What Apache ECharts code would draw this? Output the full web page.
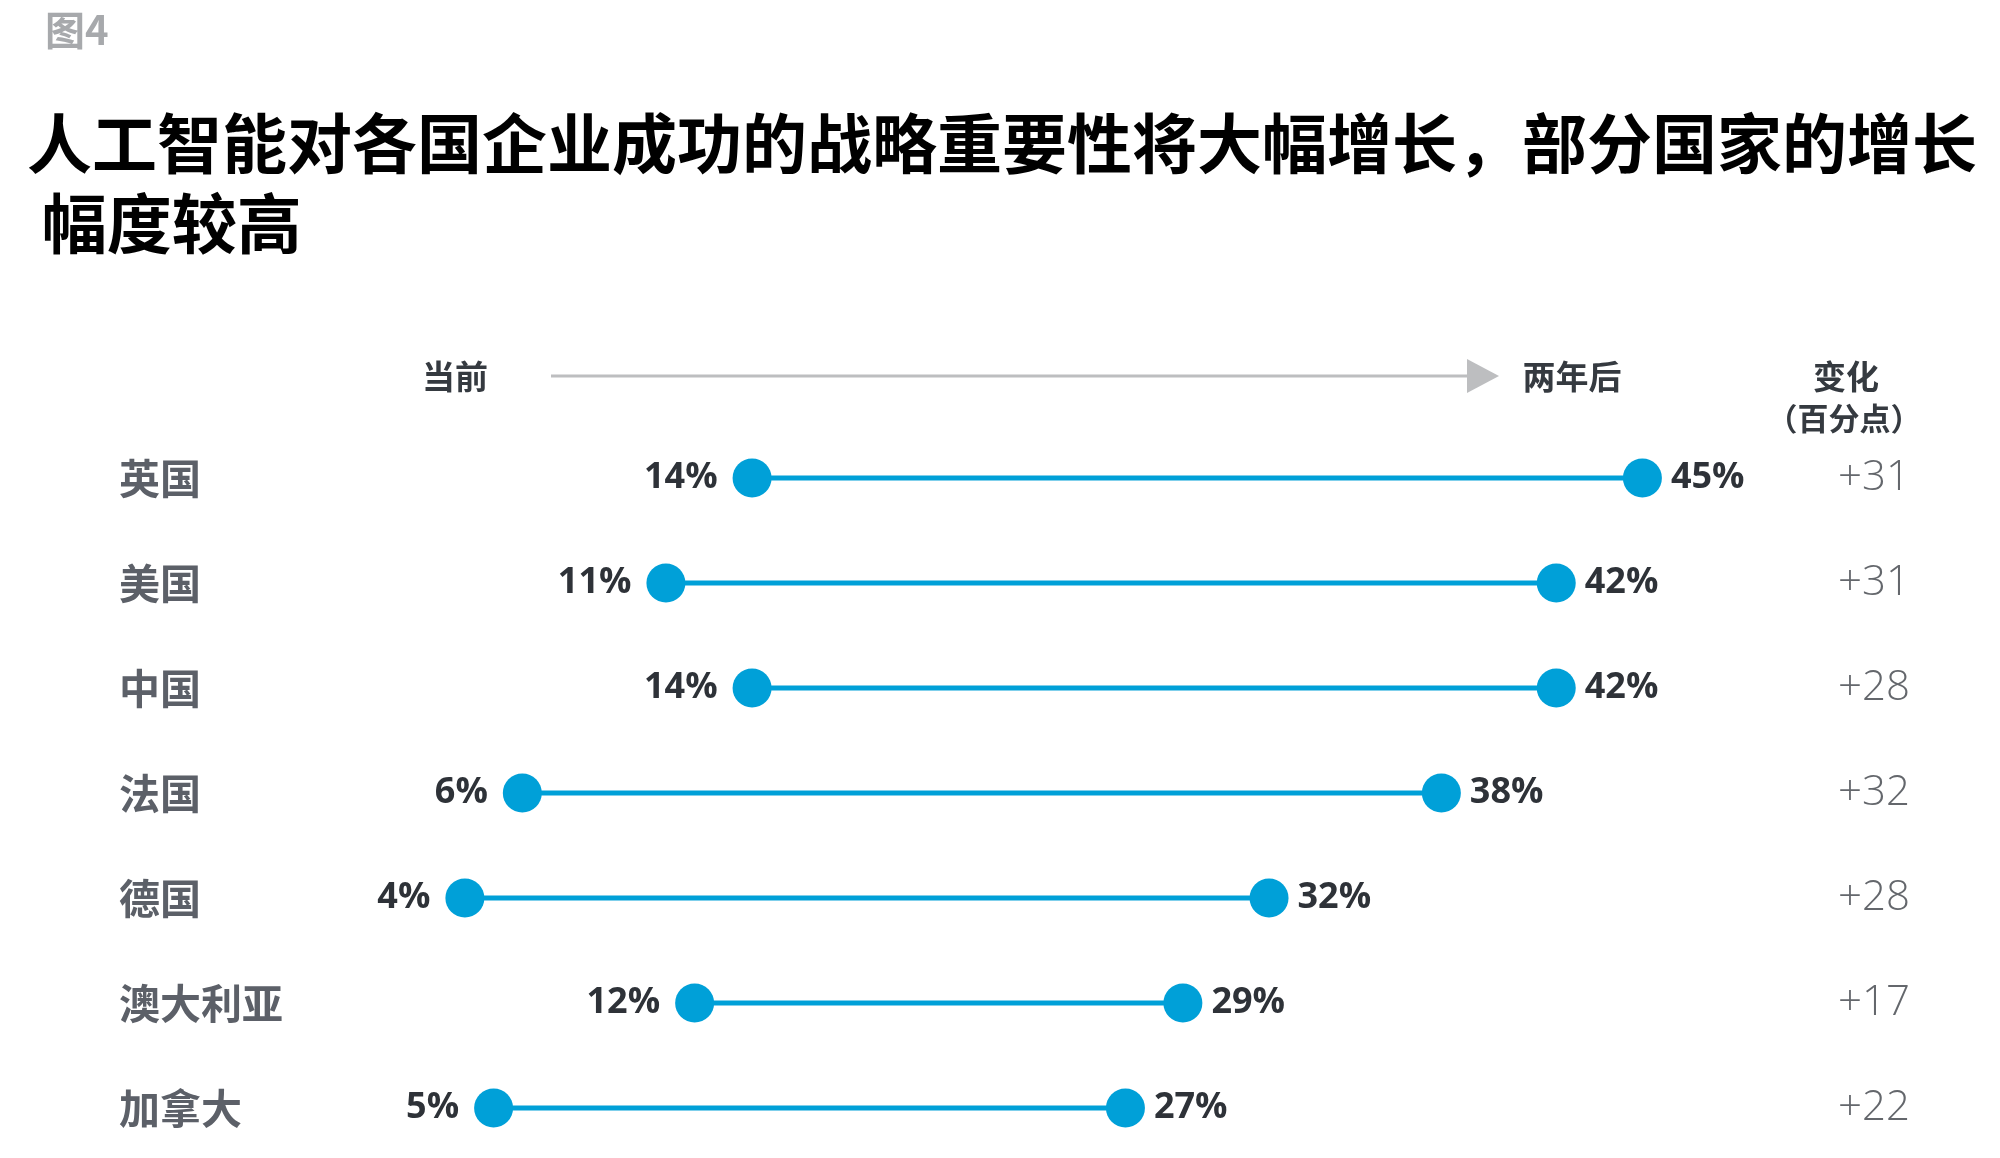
<!DOCTYPE html>
<html>
<head>
<meta charset="utf-8">
<title>图4</title>
<script src="https://cdn.jsdelivr.net/npm/echarts@6/dist/echarts.min.js"></script>
<style>
    html, body { margin: 0; padding: 0; background: #fff; }
    #chart { width: 2000px; height: 1158px; }
</style>
</head>
<body>
<div id="chart"></div>
<script>
// 数据
var countries = ['英国', '美国', '中国', '法国', '德国', '澳大利亚', '加拿大'];
var nowValues = [14, 11, 14, 6, 4, 12, 5];
var laterValues = [45, 42, 42, 38, 32, 29, 27];
var changes = [31, 31, 28, 32, 28, 17, 22];

var blue = '#00a0d8';
var cjk = '"Noto Sans CJK SC", "Noto Sans", sans-serif';
var num = '"Open Sans", "Noto Sans", sans-serif';

var nowData = [];
var laterData = [];
var rangeData = [];
countries.forEach(function (name, i) {
    nowData.push([nowValues[i], name]);
    laterData.push([laterValues[i], name]);
    rangeData.push([nowValues[i], laterValues[i], name]);
});

var chart = echarts.init(document.getElementById('chart'));

var option = {
    backgroundColor: '#fff',
    animation: false,
    title: [
        {
            text: '图4',
            left: 40,
            top: 5,
            textStyle: { fontFamily: cjk, fontSize: 40, fontWeight: 'bold', color: '#a7a9ac' }
        },
        {
            text: '人工智能对各国企业成功的战略重要性将大幅增长，部分国家的增长\n 幅度较高',
            left: 22,
            top: 98,
            textStyle: { fontFamily: cjk, fontSize: 65, fontWeight: 'bold', color: '#000', lineHeight: 80 }
        }
    ],
    grid: {
        left: 350,
        right: 214,
        top: 478,
        bottom: 50,
        containLabel: false
    },
    xAxis: {
        type: 'value',
        min: 0,
        max: 50,
        show: false
    },
    yAxis: [
        {
            type: 'category',
            data: countries,
            inverse: true,
            boundaryGap: false,
            axisLine: { show: false },
            axisTick: { show: false },
            splitLine: { show: false },
            axisLabel: {
                align: 'left',
                margin: 231,
                fontFamily: cjk,
                fontSize: 41,
                fontWeight: 'bold',
                color: '#5c6068'
            }
        },
        {
            type: 'category',
            data: countries,
            inverse: true,
            boundaryGap: false,
            position: 'right',
            axisLine: { show: false },
            axisTick: { show: false },
            splitLine: { show: false },
            axisLabel: {
                align: 'left',
                margin: 52,
                fontFamily: num,
                fontSize: 42,
                fontWeight: 300,
                color: '#64676c',
                formatter: function (value, index) {
                    return '+' + changes[index];
                }
            }
        }
    ],
    graphic: [
        {
            type: 'text',
            x: 455,
            y: 376,
            style: { text: '当前', font: 'bold 33px ' + cjk, fill: '#353a40', align: 'center', verticalAlign: 'middle' }
        },
        {
            type: 'line',
            shape: { x1: 551, y1: 376, x2: 1470, y2: 376 },
            style: { stroke: '#bdbec0', lineWidth: 3 }
        },
        {
            type: 'polygon',
            shape: { points: [[1467, 359], [1499, 376], [1467, 393]] },
            style: { fill: '#bdbec0' }
        },
        {
            type: 'text',
            x: 1572,
            y: 376,
            style: { text: '两年后', font: 'bold 33px ' + cjk, fill: '#353a40', align: 'center', verticalAlign: 'middle' }
        },
        {
            type: 'text',
            x: 1846,
            y: 376,
            style: { text: '变化', font: 'bold 33px ' + cjk, fill: '#353a40', align: 'center', verticalAlign: 'middle' }
        },
        {
            type: 'text',
            x: 1844,
            y: 418,
            style: { text: '（百分点）', font: 'bold 31px ' + cjk, fill: '#353a40', align: 'center', verticalAlign: 'middle' }
        }
    ],
    series: [
        {
            name: '区间',
            type: 'custom',
            data: rangeData,
            encode: { x: [0, 1], y: 2 },
            z: 1,
            renderItem: function (params, api) {
                var p1 = api.coord([api.value(0), api.value(2)]);
                var p2 = api.coord([api.value(1), api.value(2)]);
                return {
                    type: 'line',
                    shape: { x1: p1[0], y1: p1[1], x2: p2[0], y2: p2[1] },
                    style: { stroke: blue, lineWidth: 5 }
                };
            }
        },
        {
            name: '当前',
            type: 'scatter',
            data: nowData,
            symbolSize: 39,
            z: 3,
            itemStyle: { color: blue, opacity: 1 },
            label: {
                show: true,
                position: 'left',
                distance: 15,
                fontFamily: num,
                fontSize: 36,
                fontWeight: 'bold',
                color: '#2e3238',
                formatter: function (p) { return p.value[0] + '%'; }
            }
        },
        {
            name: '两年后',
            type: 'scatter',
            data: laterData,
            symbolSize: 39,
            z: 3,
            itemStyle: { color: blue, opacity: 1 },
            label: {
                show: true,
                position: 'right',
                distance: 9,
                fontFamily: num,
                fontSize: 36,
                fontWeight: 'bold',
                color: '#2e3238',
                formatter: function (p) { return p.value[0] + '%'; }
            }
        }
    ]
};

chart.setOption(option);

window.addEventListener('resize', function () {
    chart.resize();
});
</script>
</body>
</html>
